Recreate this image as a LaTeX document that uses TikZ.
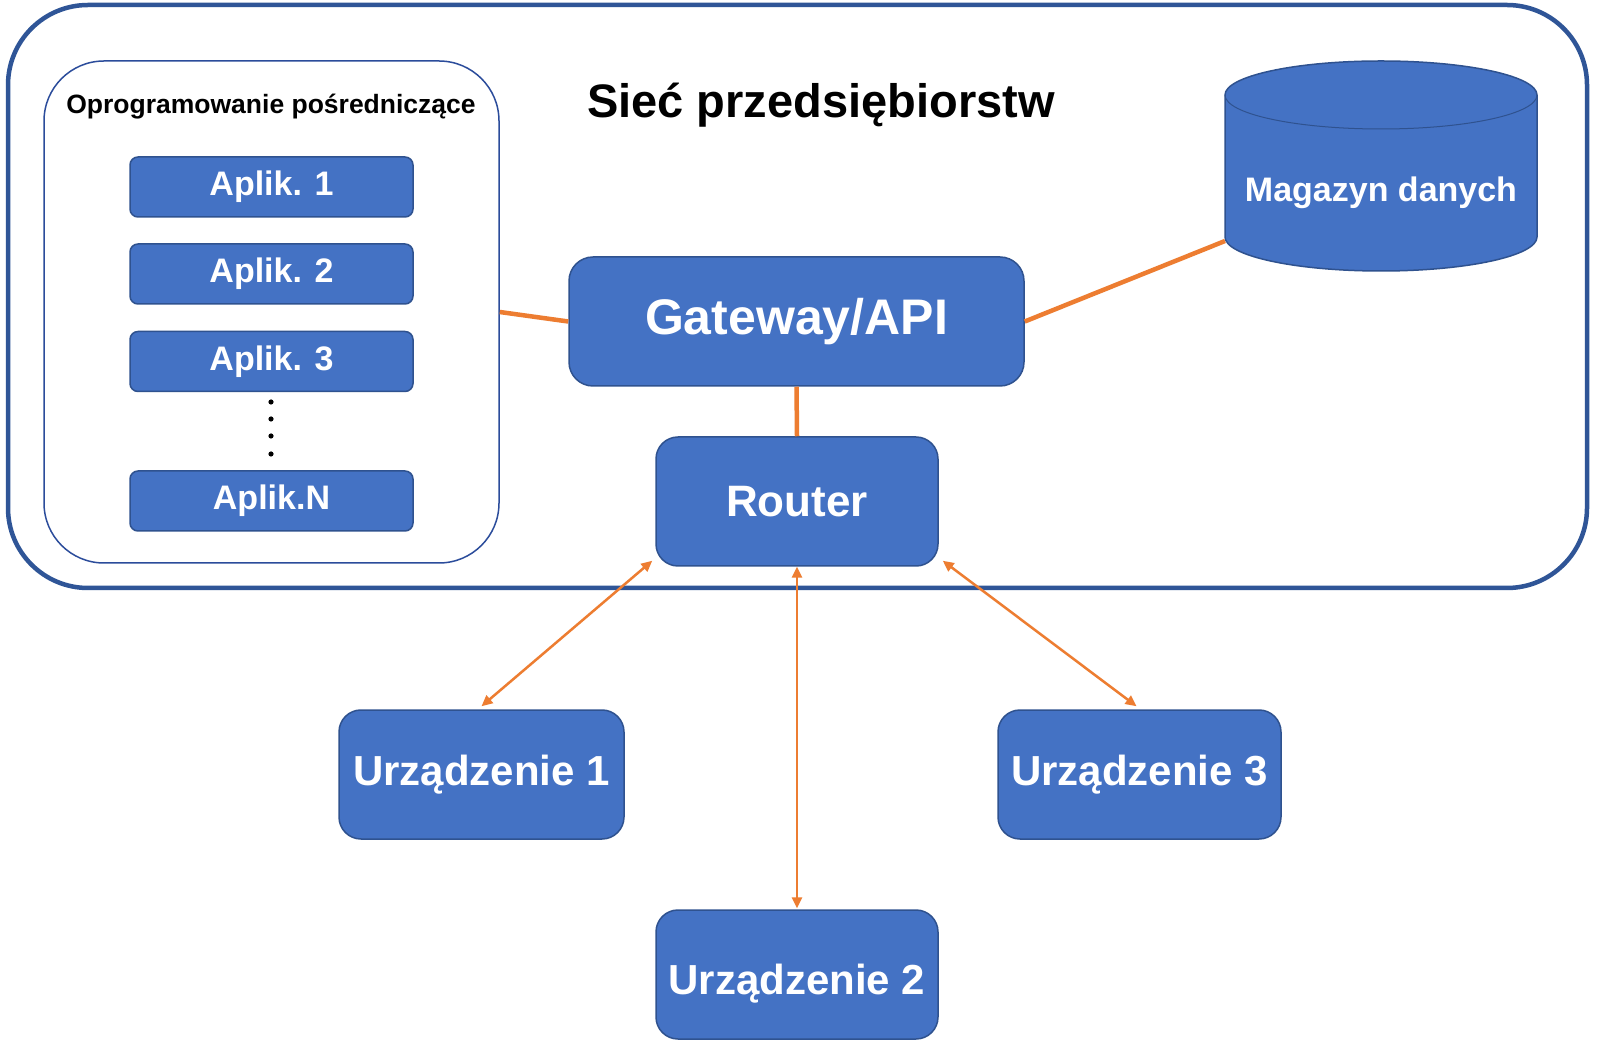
\documentclass[tikz,border=0pt]{standalone}
\usepackage{fontspec}
\setmainfont{Liberation Sans}
\usetikzlibrary{arrows.meta}
\definecolor{boxfill}{HTML}{4472C4}
\definecolor{boxline}{HTML}{2F528F}
\definecolor{framecol}{HTML}{2F5597}
\definecolor{midcol}{HTML}{2B4C9B}
\definecolor{linkcol}{HTML}{ED7D31}
\newcommand\myfs[1]{\fontsize{#1}{#1}\selectfont\bfseries}
\begin{document}
\begin{tikzpicture}[x=1pt,y=1pt,
  bluebox/.style={draw=boxline, line width=1.5pt, fill=boxfill, text=white, inner sep=0pt},
  appbox/.style={bluebox, rounded corners=8pt, minimum width=283pt, minimum height=60pt, font=\myfs{34}},
  bigbox/.style={bluebox, rounded corners=22pt, minimum width=283pt, minimum height=129pt},
  devbox/.style={bigbox, font=\myfs{42}},
  thicklink/.style={draw=linkcol, line width=4.5pt},
  arrlink/.style={draw=linkcol, line width=2.5pt, {Triangle[length=11pt,width=10pt]}-{Triangle[length=11pt,width=10pt]}}
]
\useasboundingbox (0,0) rectangle (1600,1045);
\fill[white] (0,0) rectangle (1600,1045);

% outer frame
\node[draw=framecol, line width=4.5pt, rounded corners=80pt, minimum width=1579pt, minimum height=583pt, inner sep=0pt] (frame) at (797.5,748.5) {};

% middleware frame
\node[draw=midcol, line width=1.5pt, rounded corners=60pt, minimum width=455pt, minimum height=502pt, inner sep=0pt] (mid) at (271.5,733) {};
\node[anchor=base, font=\myfs{26.5}, inner sep=0pt] (midlabel) at (271,931) {Oprogramowanie pośredniczące};

% title
\node[anchor=base, font=\myfs{47}, inner sep=0pt] (title) at (821,927) {Sieć przedsiębiorstw};

% apps
\node[appbox] (app1) at (271.5,858) {Aplik. 1};
\node[appbox] (app2) at (271.5,771) {Aplik. 2};
\node[appbox] (app3) at (271.5,683.5) {Aplik. 3};
\node[appbox] (appn) at (271.5,544) {Aplik.N};
\foreach \yy/\nm in {643/d1,626/d2,609/d3,591/d4}
  \fill (271,\yy) circle[radius=2.6pt] coordinate (\nm);

% database cylinder
\fill[boxfill] (1225,950) -- (1225,808) arc[start angle=180,end angle=360,x radius=156,y radius=34] -- (1537,950) arc[start angle=0,end angle=180,x radius=156,y radius=34] -- cycle;
\draw[boxline, line width=1.5pt] (1225,950) -- (1225,808) arc[start angle=180,end angle=360,x radius=156,y radius=34] -- (1537,950) arc[start angle=0,end angle=180,x radius=156,y radius=34] -- cycle;
\draw[boxline, line width=1pt] (1225,950) arc[start angle=180,end angle=360,x radius=156,y radius=34];
\node[anchor=base, font=\myfs{34}, text=white, inner sep=0pt] (db) at (1381,843) {Magazyn danych};
\coordinate (dbin) at (1225,804);

% gateway & router
\node[bigbox, minimum width=455pt, rounded corners=24pt, font=\myfs{50}] (gw) at (796.5,723.5) {Gateway/API};
\node[bigbox, minimum width=282pt, font=\myfs{44}] (router) at (797,543.5) {Router};

% devices
\node[devbox, minimum width=285pt] (d1dev) at (481.5,270.5) {Urządzenie 1};
\node[devbox] (d3dev) at (1139.5,270.5) {Urządzenie 3};
\node[devbox, minimum width=282pt, text height=48pt, text depth=8.4pt] (d2dev) at (797,70.5) {Urządzenie 2};

% links
\draw[thicklink] (mid.east) -- (gw.west);
\draw[thicklink] (gw.east) -- (dbin);
\draw[thicklink] (gw.south) -- (router.north);
\draw[arrlink] ([xshift=-3pt,yshift=6pt]router.south west) -- ([yshift=3pt]d1dev.north);
\draw[arrlink] (router.south) -- ([yshift=1pt]d2dev.north);
\draw[arrlink] ([xshift=4pt,yshift=6pt]router.south east) -- ([xshift=-3pt,yshift=3pt]d3dev.north);
\end{tikzpicture}
\end{document}
